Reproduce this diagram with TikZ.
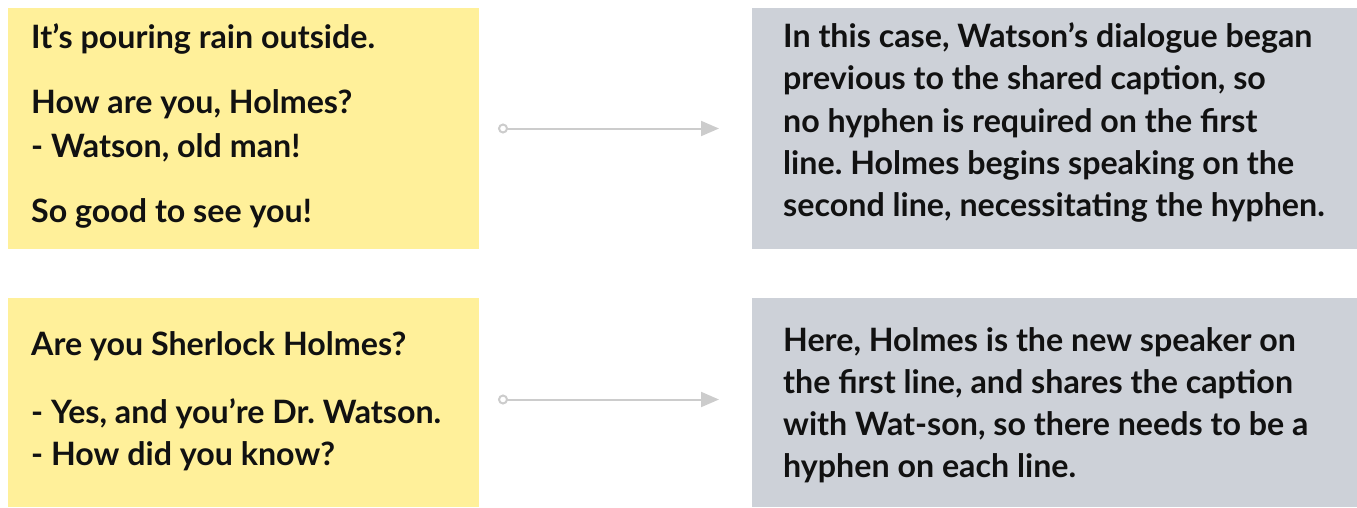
\documentclass[tikz,border=0pt]{standalone}
\usepackage{fontspec}
\setmainfont{Lato}
\usetikzlibrary{arrows.meta}
\definecolor{boxyellow}{HTML}{FFF09A}
\definecolor{boxgray}{HTML}{CDD1D8}
\definecolor{linkgray}{HTML}{CCCCCC}
\definecolor{ink}{HTML}{111111}
\frenchspacing
\begin{document}
\begin{tikzpicture}[x=1pt,y=-1pt,
  panel/.style={anchor=north west, inner sep=0pt, outer sep=0pt, draw=none},
  ybox/.style={panel, fill=boxyellow},
  gbox/.style={panel, fill=boxgray},
  txt/.style={anchor=base west, inner sep=0pt, text=ink, font=\bfseries\fontsize{32.2}{38}\selectfont},
  link/.style={draw=linkgray, line width=2pt,
    {Circle[open, length=10pt, width=10pt, line width=2pt]}-{Triangle[length=18pt, width=15pt]},
    shorten <=19pt, shorten >=33pt}
]
\useasboundingbox (0,0) rectangle (1357,507);
% boxes
\node[ybox, minimum width=471pt, minimum height=241pt] (y1) at (8,8) {};
\node[gbox, minimum width=605pt, minimum height=241pt] (g1) at (752,8) {};
\node[ybox, minimum width=471pt, minimum height=209pt] (y2) at (8,298) {};
\node[gbox, minimum width=605pt, minimum height=209pt] (g2) at (752,298) {};
% top yellow text
\node[txt] (y1a) at (31,48) {It’s pouring rain outside.};
\node[txt] (y1b) at (31,113) {How are you, Holmes?};
\node[txt] (y1c) at (31,157) {- Watson, old man!};
\node[txt] (y1d) at (31,222) {So good to see you!};
% top gray text
\node[txt] (g1a) at (783,47.5) {In this case, Watson’s dialogue began};
\node[txt] (g1b) at (783,89.8) {previous to the shared caption, so};
\node[txt] (g1c) at (783,132) {no hyphen is required on the first};
\node[txt] (g1d) at (783,174.3) {line. Holmes begins speaking on the};
\node[txt] (g1e) at (783,216.5) {second line, necessitating the hyphen.};
% bottom yellow text
\node[txt] (y2a) at (31,355) {Are you Sherlock Holmes?};
\node[txt] (y2b) at (31,423) {- Yes, and you’re Dr. Watson.};
\node[txt] (y2c) at (31,465) {- How did you know?};
% bottom gray text
\node[txt] (g2a) at (783,351) {Here, Holmes is the new speaker on};
\node[txt] (g2b) at (783,393) {the first line, and shares the caption};
\node[txt] (g2c) at (783,435) {with Wat-son, so there needs to be a};
\node[txt] (g2d) at (783,477.5) {hyphen on each line.};
% connectors
\draw[link] (y1.east) -- (g1.west);
\draw[link] ([yshift=3pt]y2.east) -- ([yshift=3pt]g2.west);
\end{tikzpicture}
\end{document}
